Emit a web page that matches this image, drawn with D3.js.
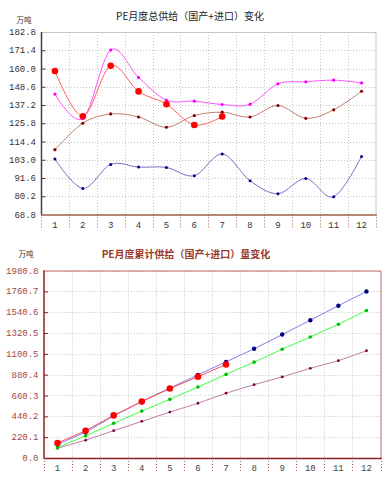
<!DOCTYPE html>
<html>
<head>
<meta charset="utf-8">
<script src="https://cdn.jsdelivr.net/npm/d3@7"></script>
<style>
html,body{margin:0;padding:0;background:#fff;}
svg{display:block;}
</style>
</head>
<body>
<script>
// ---------- DATA ----------
const months = ["1","2","3","4","5","6","7","8","9","10","11","12"];

// Top chart: monthly total supply (万吨)
const topTicks = [68.8, 80.2, 91.6, 103.0, 114.4, 125.8, 137.2, 148.6, 160.0, 171.4, 182.8];
const topRed     = [158.4, 130.2, 161.7, 145.7, 137.7, 124.7, 130.0];
const topMagenta = [144.0, 128.7, 171.5, 154.4, 140.2, 139.6, 137.5, 137.7, 150.4, 151.7, 152.7, 151.0];
const topBrown   = [109.3, 125.8, 131.6, 129.7, 123.3, 130.6, 132.7, 129.7, 136.9, 128.9, 134.2, 145.8];
const topBlue    = [103.4, 85.1, 100.1, 98.4, 98.2, 93.0, 106.6, 89.9, 81.8, 91.3, 79.9, 105.1];

// Bottom chart: cumulative supply (万吨)
const botTicks = [0.0, 220.1, 440.2, 660.3, 880.4, 1100.5, 1320.5, 1540.6, 1760.7, 1980.8];
const botRed    = [158.4, 288.6, 450.3, 596.0, 733.7, 858.4, 988.4];
const botNavy   = [144.0, 272.7, 444.2, 598.6, 738.8, 878.4, 1015.9, 1153.6, 1304.0, 1455.7, 1608.4, 1759.4];
const botGreen  = [109.3, 235.1, 366.7, 496.4, 619.7, 750.3, 883.0, 1012.7, 1149.6, 1278.5, 1412.7, 1558.5];
const botPurple = [103.4, 188.5, 288.6, 387.0, 485.2, 578.2, 684.8, 774.7, 856.5, 947.8, 1027.7, 1132.8];

const topTitle = "PE月度总供给（国产+进口）变化";
const botTitle = "PE月度累计供给（国产+进口）量变化";
const unit = "万吨";

// ---------- DRAW ----------
const svg = d3.select("body").append("svg").attr("width",392).attr("height",484);
const numFont = "'Liberation Mono', monospace";
const cjkFont = "'Noto Sans CJK SC', sans-serif";

function chart(cfg){
  const g = svg.append("g");
  const x = d3.scaleBand().domain(months).range([cfg.left, cfg.right]);
  const y = d3.scaleLinear().domain([cfg.ticks[0], cfg.ticks[cfg.ticks.length-1]]).range([cfg.bottom, cfg.top]);

  // horizontal gridlines
  g.append("g").selectAll("line").data(cfg.ticks.slice(1)).join("line")
    .attr("x1",cfg.left).attr("x2",cfg.right)
    .attr("y1",d=>Math.round(y(d))+0.5).attr("y2",d=>Math.round(y(d))+0.5)
    .attr("stroke","#c4c4c4").attr("stroke-dasharray","1,2");
  // vertical gridlines at band boundaries
  const bounds = months.map(m=>x(m)).concat([cfg.right]);
  g.append("g").selectAll("line").data(bounds.slice(1,-1)).join("line")
    .attr("x1",d=>Math.round(d)+0.5).attr("x2",d=>Math.round(d)+0.5)
    .attr("y1",cfg.top).attr("y2",cfg.bottom)
    .attr("stroke","#c4c4c4").attr("stroke-dasharray","1,2");
  // dotted ticks below x axis
  g.append("g").selectAll("line").data(bounds).join("line")
    .attr("x1",d=>Math.round(d)+0.5).attr("x2",d=>Math.round(d)+0.5)
    .attr("y1",cfg.bottom).attr("y2",cfg.bottom+15)
    .attr("stroke",cfg.xTickColor).attr("stroke-dasharray","1,2");

  // border top/right
  g.append("path")
    .attr("d",`M${cfg.left},${cfg.top+0.5}H${cfg.right+0.5}V${cfg.bottom}`)
    .attr("fill","none").attr("stroke",cfg.borderColor);
  // left axis
  const yAxis = d3.axisRight(y).tickValues(cfg.ticks.slice(1,-1)).tickSize(4).tickFormat("");
  const ya = g.append("g").attr("transform",`translate(${cfg.left+0.5},0)`).call(yAxis);
  ya.select(".domain").attr("stroke",cfg.leftAxisColor).attr("stroke-width",1.5)
    .attr("d",`M0,${cfg.top}V${cfg.bottom}`);
  ya.selectAll(".tick line").attr("stroke",cfg.leftAxisColor);
  // y labels
  g.append("g").selectAll("text").data(cfg.ticks).join("text")
    .attr("x",cfg.left-5).attr("y",d=>y(d)).attr("dy","0.35em")
    .attr("text-anchor","end").attr("font-family",numFont).attr("font-size",cfg.yFont)
    .attr("fill",cfg.yLabelColor).text(d=>d.toFixed(1));
  // x axis line
  g.append("line").attr("x1",cfg.left).attr("x2",cfg.right+1)
    .attr("y1",cfg.bottom+0.5).attr("y2",cfg.bottom+0.5)
    .attr("stroke",cfg.xAxisColor).attr("stroke-width",1.5);
  // x labels
  g.append("g").selectAll("text").data(months).join("text")
    .attr("x",d=>x(d)+x.bandwidth()/2).attr("y",cfg.bottom+10).attr("dy","0.35em")
    .attr("text-anchor","middle").attr("font-family",numFont).attr("font-size",9)
    .attr("fill",cfg.xLabelColor).text(d=>d);

  // title and unit
  g.append("text").attr("x",cfg.titleX).attr("y",cfg.titleY).attr("text-anchor","middle")
    .attr("font-family",cjkFont).attr("font-size",10).attr("fill",cfg.titleColor)
    .attr("font-weight",cfg.titleWeight||"normal").text(cfg.title);
  g.append("text").attr("x",cfg.unitX).attr("y",cfg.unitY).attr("text-anchor","middle")
    .attr("font-family",cjkFont).attr("font-size",7.5).attr("fill","#333").text(unit);

  // series
  cfg.series.forEach(s=>{
    const pts = s.values.map((v,i)=>[x(months[i])+x.bandwidth()/2, y(v)]);
    g.append("path").attr("d", d3.line().curve(cfg.curve)(pts))
      .attr("fill","none").attr("stroke",s.line).attr("stroke-width",1);
    g.append("g").selectAll("circle").data(pts).join("circle")
      .attr("cx",d=>d[0]).attr("cy",d=>d[1]).attr("r",s.r).attr("fill",s.dot);
  });
}

chart({
  left:41, right:375.5, top:32, bottom:214.5, ticks:topTicks,
  xTickColor:"#a06060", borderColor:"#c8c8c8", leftAxisColor:"#404040",
  yLabelColor:"#333", yFont:9, xAxisColor:"#a0604a", xLabelColor:"#333",
  title:topTitle, titleX:190, titleY:20, titleColor:"#222",
  unitX:24, unitY:23,
  curve: d3.curveCardinal.tension(0),
  series:[
    {values:topBlue, line:"#7070c8", dot:"#000080", r:1.5},
    {values:topBrown, line:"#c08068", dot:"#800000", r:1.6},
    {values:topMagenta, line:"#ff50ff", dot:"#ff00ff", r:1.6},
    {values:topRed, line:"#ff6060", dot:"#ff0000", r:3.3}
  ]
});

chart({
  left:43.5, right:380.5, top:270.5, bottom:458, ticks:botTicks,
  xTickColor:"#a06060", borderColor:"#c86464", leftAxisColor:"#8b2020",
  yLabelColor:"#a04848", yFont:9, xAxisColor:"#8b2020", xLabelColor:"#444",
  title:botTitle, titleX:186, titleY:258, titleColor:"#9a3a2a", titleWeight:"bold",
  unitX:26, unitY:257,
  curve: d3.curveLinear,
  series:[
    {values:botPurple, line:"#c080a8", dot:"#800040", r:1.4},
    {values:botGreen, line:"#40ff40", dot:"#00c000", r:1.8},
    {values:botNavy, line:"#8080f0", dot:"#000080", r:2.2},
    {values:botRed, line:"#ff5050", dot:"#ff0000", r:3.3}
  ]
});
</script>
</body>
</html>
